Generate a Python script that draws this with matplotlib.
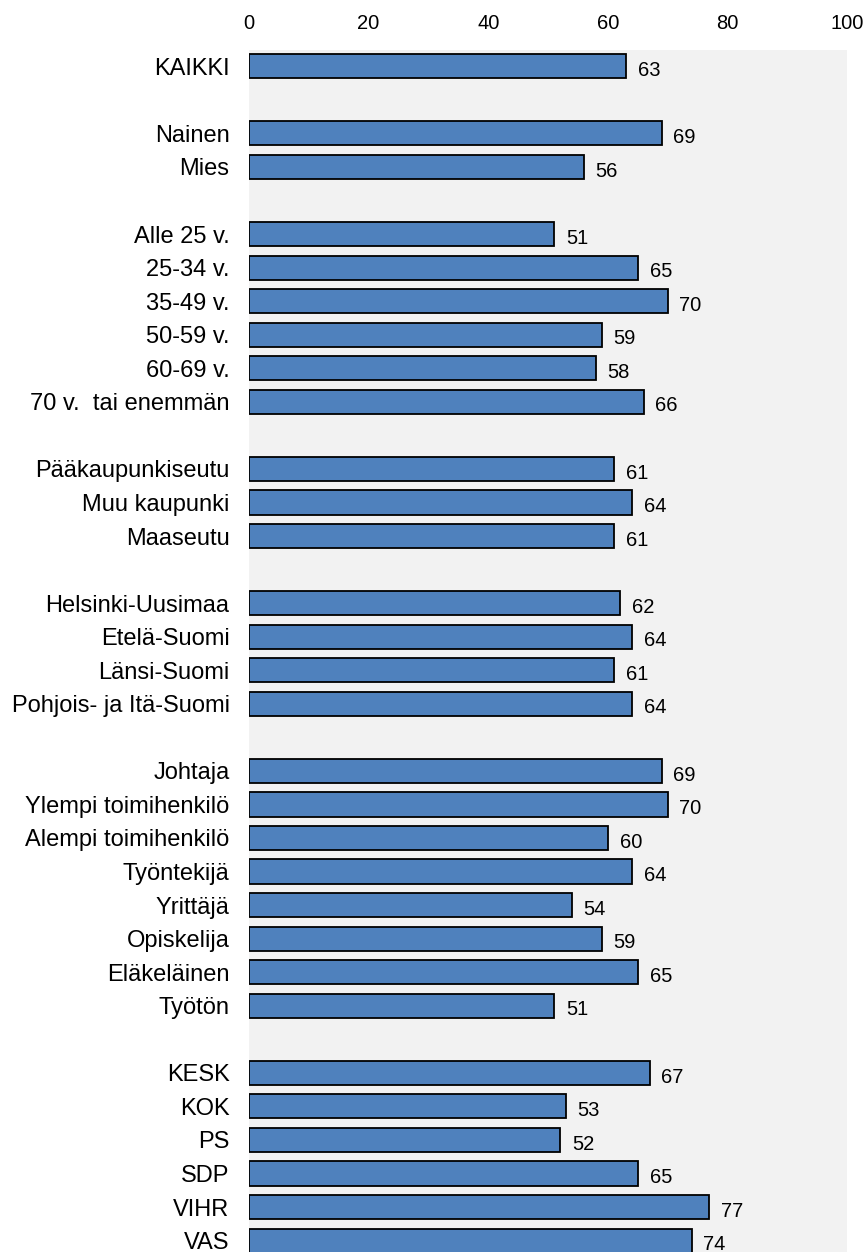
import matplotlib
matplotlib.use("Agg")
import matplotlib.pyplot as plt

plt.rcParams['font.family'] = ['Liberation Sans', 'DejaVu Sans']

groups = [
    ["KAIKKI"],
    ["Nainen", "Mies"],
    ["Alle 25 v.", "25-34 v.", "35-49 v.", "50-59 v.", "60-69 v.", "70 v.  tai enemmän"],
    ["Pääkaupunkiseutu", "Muu kaupunki", "Maaseutu"],
    ["Helsinki-Uusimaa", "Etelä-Suomi", "Länsi-Suomi", "Pohjois- ja Itä-Suomi"],
    ["Johtaja", "Ylempi toimihenkilö", "Alempi toimihenkilö", "Työntekijä",
     "Yrittäjä", "Opiskelija", "Eläkeläinen", "Työtön"],
    ["KESK", "KOK", "PS", "SDP", "VIHR", "VAS"],
]
values = [
    [63],
    [69, 56],
    [51, 65, 70, 59, 58, 66],
    [61, 64, 61],
    [62, 64, 61, 64],
    [69, 70, 60, 64, 54, 59, 65, 51],
    [67, 53, 52, 65, 77, 74],
]
xticks = [0, 20, 40, 60, 80, 100]

labels, vals, pos = [], [], []
p = 0
for g, v in zip(groups, values):
    for lab, val in zip(g, v):
        labels.append(lab)
        vals.append(val)
        pos.append(p)
        p += 1
    p += 1

fig = plt.figure(figsize=(8.68, 12.52), dpi=100)
ax = fig.add_axes([249/868, 0.0, 598/868, 1 - 50/1252])
ax.set_facecolor('#F2F2F2')
ax.barh(pos, vals, height=0.72, color='#4F81BD', edgecolor='black', linewidth=1.3, zorder=2)
for y, v in zip(pos, vals):
    ax.annotate(f"{v}", xy=(v, y), xytext=(8.5, -3), textcoords='offset points',
                ha='left', va='center', fontsize=14.5, color='black')

ax.set_xlim(0, 100)
ax.set_ylim(35.34, -0.486)
ax.set_xticks(xticks)
ax.set_xticklabels([str(t) for t in xticks])
ax.xaxis.tick_top()
ax.tick_params(axis='x', length=0, pad=12, labelsize=14.5)
ax.set_yticks(pos)
ax.set_yticklabels(labels)
ax.tick_params(axis='y', length=0, pad=14, labelsize=17)
for s in ax.spines.values():
    s.set_visible(False)

fig.savefig("out.png", dpi=100)
